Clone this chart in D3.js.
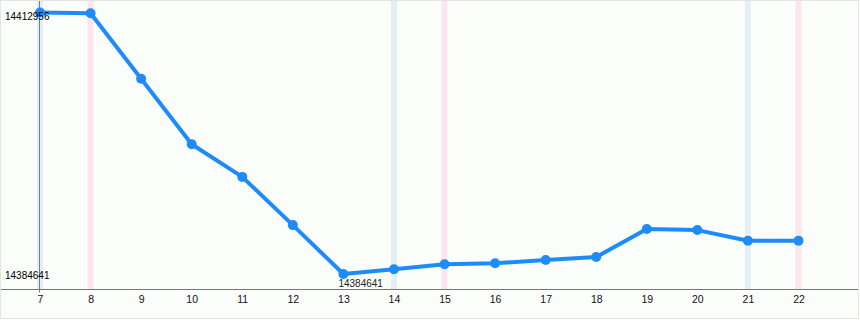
<!DOCTYPE html>
<html>
<head>
<meta charset="utf-8">
<script src="https://cdn.jsdelivr.net/npm/d3@7"></script>
<style>
  html, body { margin: 0; padding: 0; background: #fff; }
  svg { display: block; font-family: "Liberation Sans", Arial, sans-serif; }
</style>
</head>
<body>
<div id="chart"></div>
<script>
// day of month on the x axis
const days = [7, 8, 9, 10, 11, 12, 13, 14, 15, 16, 17, 18, 19, 20, 21, 22];
const values = [14412956, 14412880, 14405790, 14398690, 14395156, 14389936, 14384641, 14385149,
                14385700, 14385797, 14386154, 14386478, 14389504, 14389396, 14388240, 14388240];
// highlighted days (blue / pink bands)
const blueDays = [7, 14, 21];
const pinkDays = [8, 15, 22];

const width = 860, height = 320;
const axisY = 289.5;

const svg = d3.select("#chart").append("svg")
  .attr("width", width)
  .attr("height", height);

svg.append("rect")
  .attr("x", 0.5).attr("y", 0.5)
  .attr("width", width - 2).attr("height", height - 2)
  .attr("fill", "#fbfdfb")
  .attr("stroke", "#e4e4e4");

const x = d3.scaleLinear().domain([7, 22]).range([40, 798.5]);
const yMin = d3.min(values), yMax = d3.max(values);
const y = d3.scaleLinear().domain([yMin, yMax]).range([274, 12.5]);

// vertical bands
svg.selectAll(".band-blue").data(blueDays).enter().append("rect")
  .attr("x", d => x(d) - 3).attr("y", 1)
  .attr("width", 6).attr("height", axisY - 1)
  .attr("fill", "#e3eff3");
svg.selectAll(".band-pink").data(pinkDays).enter().append("rect")
  .attr("x", d => x(d) - 3).attr("y", 1)
  .attr("width", 6).attr("height", axisY - 1)
  .attr("fill", "#fce5ef");

// y axis line
svg.append("line")
  .attr("x1", x(7) - 0.5).attr("x2", x(7) - 0.5)
  .attr("y1", 1).attr("y2", axisY + 3)
  .attr("stroke", "#6f7f85").attr("stroke-width", 1);

// x axis
const xAxis = d3.axisBottom(x).tickValues(days).tickSize(0).tickPadding(6);
const gx = svg.append("g").attr("transform", `translate(0,${axisY})`).call(xAxis);
gx.select(".domain").remove();
gx.selectAll("text").attr("font-size", 10.5).attr("fill", "#111")
  .attr("font-family", "Liberation Sans, Arial, sans-serif");
svg.append("line")
  .attr("x1", 1).attr("x2", width - 2)
  .attr("y1", axisY).attr("y2", axisY)
  .attr("stroke", "#777");

// line + points
const line = d3.line().x((d, i) => x(days[i])).y(d => y(d));
svg.append("path")
  .datum(values)
  .attr("d", line)
  .attr("fill", "none")
  .attr("stroke", "#1e8cf8")
  .attr("stroke-width", 4)
  .attr("stroke-linejoin", "round");

svg.selectAll(".pt").data(values).enter().append("circle")
  .attr("cx", (d, i) => x(days[i]))
  .attr("cy", d => y(d))
  .attr("r", 5)
  .attr("fill", "#1e8cf8");

// min / max labels
svg.append("text").attr("x", 5).attr("y", 20)
  .attr("font-size", 10).attr("fill", "#000").text(yMax);
svg.append("text").attr("x", 5).attr("y", y(yMin) + 5)
  .attr("font-size", 10).attr("fill", "#000").text(yMin);

const iMin = values.indexOf(yMin);
svg.append("text").attr("x", x(days[iMin]) - 5).attr("y", y(yMin) + 13)
  .attr("font-size", 10).attr("fill", "#222").text(yMin);
</script>
</body>
</html>
